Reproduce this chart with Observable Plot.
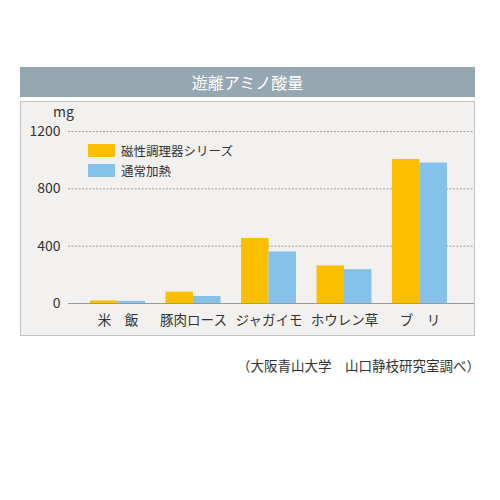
<!DOCTYPE html>
<html><head><meta charset="utf-8">
<script src="https://cdn.jsdelivr.net/npm/d3@7"></script>
<script src="https://cdn.jsdelivr.net/npm/@observablehq/plot@0.6"></script>
<style>
body{margin:0;background:#fff;font-family:"Noto Sans CJK JP","Noto Sans",sans-serif;}
#wrap{position:relative;width:500px;height:500px;}
#banner{position:absolute;left:20px;top:67px;width:455px;height:30px;background:#95a7b1;color:#fff;font-size:16px;line-height:30px;text-align:center;}
#panel{position:absolute;left:20px;top:101px;width:453px;height:233px;background:#f2f1ef;border:1px solid #c3c3c3;}
#chart{position:absolute;left:20px;top:101px;}
#unit{position:absolute;left:53px;top:103px;font-size:14px;line-height:16px;color:#333;}
.leg{position:absolute;left:88px;font-size:12.5px;color:#333;display:flex;align-items:center;}
.sw{width:27px;height:13px;margin-right:6px;}
#cap{position:absolute;right:20px;top:355px;font-size:13.5px;color:#333;}
</style></head>
<body><div id="wrap">
<div id="banner">遊離アミノ酸量</div>
<div id="panel"></div>
<div id="chart"></div>
<div id="unit">mg</div>
<div class="leg" style="top:141px"><div class="sw" id="sw0"></div><span id="lg0"></span></div>
<div class="leg" style="top:161px"><div class="sw" id="sw1"></div><span id="lg1"></span></div>
<div id="cap">（大阪青山大学　山口静枝研究室調べ）</div>
</div>
<script>
const categories = ["米　飯", "豚肉ロース", "ジャガイモ", "ホウレン草", "ブ　リ"];
const seriesNames = ["磁性調理器シリーズ", "通常加熱"];
const magnetic = [18, 79, 454, 262, 1005];
const normal = [15, 49, 359, 236, 980];
const yTicks = [0, 400, 800, 1200];
const colors = ["#fcbf00", "#86c1ea"];

const rows = [];
categories.forEach((c, i) => {
  rows.push({i, s: 0, v: magnetic[i]});
  rows.push({i, s: 1, v: normal[i]});
});
const w = 0.364;

document.getElementById("sw0").style.background = colors[0];
document.getElementById("sw1").style.background = colors[1];
document.getElementById("lg0").textContent = seriesNames[0];
document.getElementById("lg1").textContent = seriesNames[1];

const plot = Plot.plot({
  width: 455, height: 235,
  marginLeft: 48, marginRight: 1, marginTop: 30, marginBottom: 33,
  style: {background: "transparent", fontFamily: "'Noto Sans CJK JP', sans-serif", fontSize: "13px", color: "#333"},
  x: {type: "linear", domain: [-0.656, 4.722]},
  y: {domain: [0, 1200]},
  marks: [
    Plot.ruleY(yTicks.filter(t => t > 0), {stroke: "#8a8a8a", strokeWidth: 0.8, strokeDasharray: "2,1.5"}),
    Plot.rect(rows, {
      x1: d => d.s === 0 ? d.i - w : d.i,
      x2: d => d.s === 0 ? d.i : d.i + w,
      y1: () => 0, y2: "v",
      fill: d => colors[d.s]
    }),
    Plot.ruleY([0], {stroke: "#999", strokeWidth: 1}),
    Plot.axisY({ticks: yTicks, tickFormat: d => String(d), tickSize: 0, tickPadding: 8, label: null, fontSize: 14}),
    Plot.axisX({ticks: categories.map((c, i) => i), tickFormat: i => categories[i], tickSize: 0, tickPadding: 12, label: null, fontSize: 13.5})
  ]
});
document.getElementById("chart").appendChild(plot);
</script>
</body></html>
